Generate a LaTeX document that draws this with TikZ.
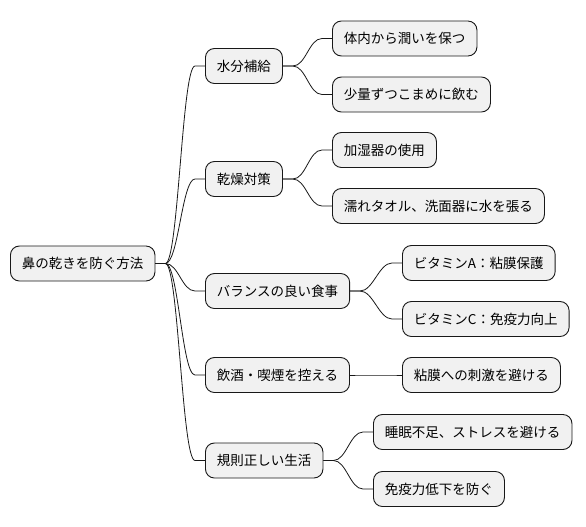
\documentclass[tikz,border=0pt]{standalone}
\usepackage{fontspec}
\setmainfont{Noto Sans CJK JP}
\usepackage{xcolor}
\definecolor{gray-100}{RGB}{241,241,241}
\definecolor{gray-900}{RGB}{24,24,24}
\usetikzlibrary{positioning}

\begin{document}
\begin{tikzpicture}[
    x=1pt, y=-1pt,
    every node/.style={inner sep=0pt},
    topic/.style={
        draw=gray-900,
        line width=0.9pt,
        fill=gray-100,
        rounded corners=9pt,
        minimum height=35pt,
        inner xsep=11.5pt,
        anchor=west,
        font=\fontsize{13.5}{16}\selectfont
    },
    branch/.style={draw=gray-900, line width=0.8pt}
]

% Canvas
\useasboundingbox (0,0) rectangle (586,527);

% Root
\node[topic] (root) at (10,263.5) {鼻の乾きを防ぐ方法};

% First level
\node[topic] (water) at (205,66) {水分補給};
\node[topic] (dry) at (205,179) {乾燥対策};
\node[topic] (diet) at (205,291) {バランスの良い食事};
\node[topic] (smoke) at (205,375) {飲酒・喫煙を控える};
\node[topic] (life) at (205,460.5) {規則正しい生活};

% Second level
\node[topic] (inner) at (332,38.5) {体内から潤いを保つ};
\node[topic] (drink) at (332,94.5) {少量ずつこまめに飲む};
\node[topic] (humid) at (332,150) {加湿器の使用};
\node[topic] (towel) at (332,206) {濡れタオル、洗面器に水を張る};
\node[topic] (vita) at (402,263) {ビタミンA：粘膜保護};
\node[topic] (vitc) at (402,319) {ビタミンC：免疫力向上};
\node[topic] (mucosa) at (402,375) {粘膜への刺激を避ける};
\node[topic] (sleep) at (373,432) {睡眠不足、ストレスを避ける};
\node[topic] (immune) at (373,489) {免疫力低下を防ぐ};

% Branches
\foreach \from/\to in {root/water, root/dry, root/diet, root/smoke, root/life,
                       water/inner, water/drink, dry/humid, dry/towel,
                       diet/vita, diet/vitc, smoke/mucosa, life/sleep, life/immune}
    \draw[branch] (\from.east) -- ++(10,0) .. controls +(13,0) and +(-13,0) .. ([xshift=-10pt]\to.west) -- (\to.west);

\end{tikzpicture}
\end{document}
